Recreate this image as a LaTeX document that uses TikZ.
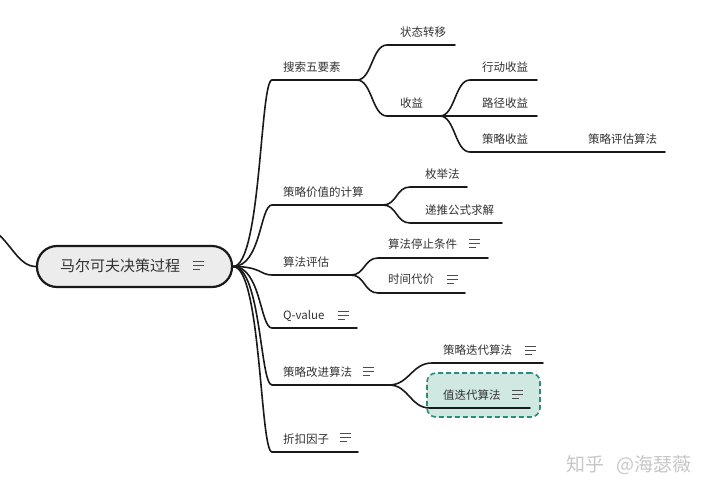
\documentclass[tikz,border=0pt]{standalone}
\usepackage{fontspec}
\newfontfamily\cjk{Noto Sans CJK SC}
\definecolor{txt}{HTML}{333333}
\definecolor{rootfill}{HTML}{ECECEC}
\definecolor{hlfill}{HTML}{CFE8E2}
\definecolor{hldraw}{HTML}{2A8C7C}
\begin{document}
\begin{tikzpicture}[x=1pt,y=-1pt,
  conn/.style={line width=1.6pt, black!90, line cap=round},
  lbl/.style={font=\cjk\fontsize{11.5}{13}\selectfont, text=txt, inner sep=0pt, anchor=base west},
  rootbox/.style={draw=black!90, line width=2.2pt, fill=rootfill, rounded corners=20pt,
    minimum width=195pt, minimum height=41pt, inner sep=0pt},
  rootlbl/.style={font=\cjk\fontsize{15}{17}\selectfont, text=txt, inner sep=0pt, anchor=west},
  hlbox/.style={draw=hldraw, fill=hlfill, line width=1.6pt, dash pattern=on 5pt off 3pt,
    rounded corners=9pt, minimum width=113pt, minimum height=44pt, inner sep=0pt},
  sbranch/.style={to path={.. controls +(#1,0) and +(-#1,0) .. (\tikztotarget) \tikztonodes}},
  noteicon/.pic={\draw[line width=0.9pt, black!70] (0,-4)--(11,-4) (0,0)--(11,0) (0,4)--(7,4);}
]
\useasboundingbox (0,0) rectangle (720,493);

% root
\coordinate (lft) at (-2,234);
\node[rootbox] (root) at (134.5,266.5) {};
\node[rootlbl] (roottxt) at (60,265.5) {马尔可夫决策过程};
\pic at (193,265) {noteicon};
\draw[conn] (lft) .. controls +(14,12) and +(-16,0) .. (root.west);

% level 1 coordinates
\coordinate (As) at (272,80);  \coordinate (Ae) at (357,80);
\coordinate (Bs) at (272,205); \coordinate (Be) at (383,205);
\coordinate (Cs) at (272,275); \coordinate (Ce) at (351,275);
\coordinate (Ds) at (272,328); \coordinate (De) at (357,328);
\coordinate (Es) at (272,385); \coordinate (Ee) at (389,385);
\coordinate (Fs) at (272,452); \coordinate (Fe) at (358,452);

\foreach \n in {A,B,C,D,E,F}{
  \draw[conn] (root.east) .. controls +(28,0) and +(-12,0) .. (\n s) -- (\n e);
}

\node[lbl] (At) at (283,71)  {搜索五要素};
\node[lbl] (Bt) at (283,196) {策略价值的计算};
\node[lbl] (Ct) at (283,266) {算法评估};
\node[lbl] (Dt) at (283,319) {Q-value};
\pic at (338,315) {noteicon};
\node[lbl] (Et) at (283,376) {策略改进算法};
\pic at (363,371) {noteicon};
\node[lbl] (Ft) at (283,443) {折扣因子};
\pic at (340,437) {noteicon};

% level 2 under A
\coordinate (A1s) at (387,45);  \coordinate (A1e) at (455,45);
\coordinate (A2s) at (387,116); \coordinate (A2e) at (440,116);
\draw[conn] (Ae) to[sbranch=15] (A1s) -- (A1e);
\draw[conn] (Ae) to[sbranch=15] (A2s) -- (A2e);
\node[lbl] (A1t) at (400,36)  {状态转移};
\node[lbl] (A2t) at (400,107) {收益};

% level 3 under 收益
\coordinate (A2as) at (470,80);  \coordinate (A2ae) at (537,80);
\coordinate (A2bs) at (470,116); \coordinate (A2be) at (537,116);
\coordinate (A2cs) at (470,152); \coordinate (A2ce) at (575,152);
\coordinate (A2c1e) at (665,152);
\draw[conn] (A2e) to[sbranch=15] (A2as) -- (A2ae);
\draw[conn] (A2e) -- (A2bs) -- (A2be);
\draw[conn] (A2e) to[sbranch=15] (A2cs) -- (A2ce);
\draw[conn] (A2ce) -- (A2c1e);
\node[lbl] (A2at) at (482,71)  {行动收益};
\node[lbl] (A2bt) at (482,107) {路径收益};
\node[lbl] (A2ct) at (482,143) {策略收益};
\node[lbl] (A2c1t) at (588,143) {策略评估算法};

% level 2 under B
\coordinate (B1s) at (410,187); \coordinate (B1e) at (467,187);
\coordinate (B2s) at (410,223); \coordinate (B2e) at (502,223);
\draw[conn] (Be) to[sbranch=14] (B1s) -- (B1e);
\draw[conn] (Be) to[sbranch=14] (B2s) -- (B2e);
\node[lbl] (B1t) at (425,178) {枚举法};
\node[lbl] (B2t) at (425,214) {递推公式求解};

% level 2 under C
\coordinate (C1s) at (378,258); \coordinate (C1e) at (488,258);
\coordinate (C2s) at (378,293); \coordinate (C2e) at (465,293);
\draw[conn] (Ce) to[sbranch=14] (C1s) -- (C1e);
\draw[conn] (Ce) to[sbranch=14] (C2s) -- (C2e);
\node[lbl] (C1t) at (388,248) {算法停止条件};
\pic at (469,243) {noteicon};
\node[lbl] (C2t) at (388,283) {时间代价};
\pic at (447,279) {noteicon};

% level 2 under E
\node[hlbox] (hl) at (483.5,395) {};
\coordinate (E1s) at (432,363); \coordinate (E1e) at (543,363);
\coordinate (E2s) at (430,408); \coordinate (E2e) at (530,408);
\draw[conn] (Ee) to[sbranch=20] (E1s) -- (E1e);
\draw[conn] (Ee) to[sbranch=20] (E2s) -- (E2e);
\node[lbl] (E1t) at (443,354) {策略迭代算法};
\pic at (525,350) {noteicon};
\node[lbl] (E2t) at (443,399) {值迭代算法};
\pic at (512,394) {noteicon};

% watermark
\node[font=\cjk\fontsize{19}{21}\selectfont, text=black!22, anchor=base west, inner sep=0pt] (wm) at (566,471) {知乎\hspace{12pt}@海瑟薇};
\end{tikzpicture}
\end{document}
